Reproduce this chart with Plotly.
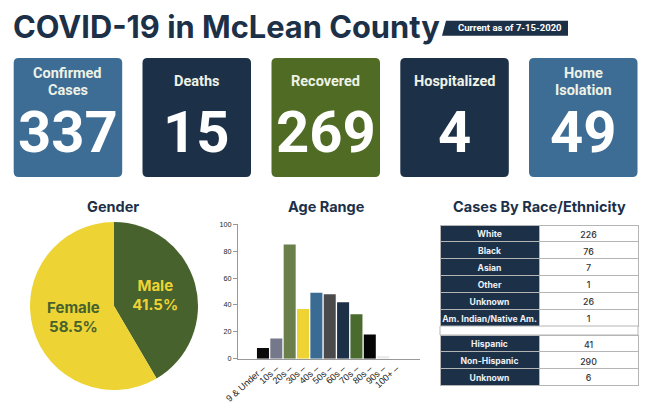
import plotly.graph_objects as go

W = 652
H = 405
NAVY = '#1c3048'
BLUE = '#3d6d94'
GREEN = '#4f6b24'
PIE_GREEN = '#47622d'
YELLOW = '#edd434'

# cards across the top
card_labels = [['Confirmed', 'Cases'], ['Deaths'], ['Recovered'], ['Hospitalized'], ['Home', 'Isolation']]
card_values = ['337', '15', '269', '4', '49']

# gender pie
gender_labels = ['Male', 'Female']
gender_counts = [140, 197]

# age bars
age_labels = ['9 & Under –', '10s –', '20s –', '30s –', '40s –', '50s –', '60s –', '70s –', '80s –', '90s –', '100+ –']
age_counts = [8, 15, 85, 37, 49, 48, 42, 33, 18, 2, 0]
age_colors = ['#0b0b0b', '#75788a', '#6b7f4b', YELLOW, '#3a6b92', '#4a4a4c', NAVY, '#4b6a2d', '#050505', '#ececec', '#ffffff']

# race / ethnicity tables
race_labels = ['White', 'Black', 'Asian', 'Other', 'Unknown', 'Am.\u00a0Indian/Native\u00a0Am.']
race_counts = [226, 76, 7, 1, 26, 1]
ethnicity_labels = ['Hispanic', 'Non-Hispanic', 'Unknown']
ethnicity_counts = [41, 290, 6]


def px(x):
    return x / W


def py(y):
    return 1 - y / H


def text(x, y, s, size, color=NAVY, font='Roboto'):
    fig.add_annotation(x=px(x), y=py(y), xref='paper', yref='paper', text=s, showarrow=False,
                       font=dict(family=font, size=size, color=color), xanchor='center', yanchor='middle')


def card_path(x0, y0, x1, y1, r):
    x0, x1 = px(x0), px(x1)
    y0, y1 = py(y0), py(y1)
    rx, ry = r / W, r / H
    return (f'M {x0 + rx} {y0} L {x1 - rx} {y0} Q {x1} {y0} {x1} {y0 - ry} L {x1} {y1 + ry} '
            f'Q {x1} {y1} {x1 - rx} {y1} L {x0 + rx} {y1} Q {x0} {y1} {x0} {y1 + ry} '
            f'L {x0} {y0 - ry} Q {x0} {y0} {x0 + rx} {y0} Z')


def make_table(labels, counts, top, bottom):
    # table text sits low in short rows, so the grid and the text are two tables,
    # the text one moved up a little
    blank = [''] * len(labels)
    hidden = dict(values=['', ''], height=0, line=dict(width=0), fill=dict(color='rgba(0,0,0,0)'))
    grid = go.Table(
        domain=dict(x=[px(440), px(638)], y=[py(bottom + 3), py(top)]),
        columnwidth=[99, 99], header=hidden,
        cells=dict(values=[blank, blank], height=16.9,
                   fill=dict(color=[NAVY, 'white']), line=dict(color='#b5b5b5', width=1)))
    words = go.Table(
        domain=dict(x=[px(440), px(638)], y=[py(bottom + 3), py(top - 2)]),
        columnwidth=[99, 99], header=hidden,
        cells=dict(values=[labels, counts], height=16.9, align='center',
                   fill=dict(color='rgba(0,0,0,0)'), line=dict(width=0),
                   font=dict(family='Inter', size=[8.6, 8.8], weight=[700, 500], color=['#eef1f4', '#333333'])))
    return [grid, words]


fig = go.Figure()

fig.add_trace(go.Pie(
    labels=gender_labels, values=gender_counts, sort=False, direction='clockwise', rotation=0,
    domain=dict(x=[px(30), px(198)], y=[py(390), py(222)]),
    marker=dict(colors=[PIE_GREEN, YELLOW]), texttemplate='<b>%{label}<br>%{percent:.1%}</b>',
    textposition='inside', insidetextorientation='horizontal',
    textfont=dict(family='Inter', size=15, color=[YELLOW, PIE_GREEN]), showlegend=False))

fig.add_trace(go.Bar(x=age_labels, y=age_counts, marker=dict(color=age_colors, line=dict(color='#cccccc', width=0)),
                     width=0.9, showlegend=False))

fig.add_traces(make_table(race_labels, race_counts, 225, 326))
fig.add_traces(make_table(ethnicity_labels, ethnicity_counts, 335, 386))

fig.update_layout(
    width=W, height=H, margin=dict(l=0, r=0, t=0, b=0, autoexpand=False), paper_bgcolor='white', plot_bgcolor='white',
    xaxis=dict(domain=[px(238), px(420)], range=[-1.87, 11.76], type='category', tickangle=-42, ticks='',
               tickfont=dict(family='Liberation Sans', size=9.2, color='#222222'), showgrid=False,
               showline=True, linecolor='#999999', linewidth=1, categoryorder='array', categoryarray=age_labels),
    yaxis=dict(domain=[py(358.7), py(224.3)], range=[0, 100], tickvals=[0, 20, 40, 60, 80, 100], ticks='outside',
               ticklen=4, tickcolor='#999999', tickfont=dict(family='Liberation Sans', size=7.2, color='#222222'),
               showgrid=False, showline=True, linecolor='#999999', linewidth=1, zeroline=False))

# header
text(226, 26, '<b>COVID-19 in McLean County</b>', 30.8, font='Inter')
fig.add_shape(type='path', xref='paper', yref='paper', fillcolor=NAVY, line=dict(width=0),
              path=f'M {px(446)} {py(20.7)} L {px(568)} {py(20.7)} L {px(568)} {py(35.7)} L {px(442)} {py(35.7)} Z')
text(510, 28, '<b>Current as of 7-15-2020</b>', 9.5, 'white')

# cards
card_x = [13.7, 142.5, 271.5, 400.3, 529]
card_colors = [BLUE, NAVY, GREEN, NAVY, BLUE]
for i in range(len(card_values)):
    x0 = card_x[i]
    fig.add_shape(type='path', xref='paper', yref='paper', path=card_path(x0, 58, x0 + 108.5, 177, 5),
                  fillcolor=card_colors[i], line=dict(width=0))
    lines = card_labels[i]
    for j, line in enumerate(lines):
        text(x0 + 54, 81.5 + (j - (len(lines) - 1) / 2) * 17, f'<b>{line}</b>', 14.5, '#eef2e6')
    text(x0 + 54, 132, f'<b>{card_values[i]}</b>', 58, 'white')

# section titles
text(113, 206, '<b>Gender</b>', 14.5, font='Inter')
text(326, 206, '<b>Age Range</b>', 14.5, font='Inter')
text(539, 206, '<b>Cases By Race/Ethnicity</b>', 14.5, font='Inter')

# empty row between the two tables
fig.add_shape(type='rect', xref='paper', yref='paper', x0=px(440), x1=px(638), y0=py(335), y1=py(326),
              line=dict(color='#b5b5b5', width=1), fillcolor='white')

fig.write_html("out.html", config=dict(displayModeBar=False), post_script="document.body.style.margin='0';")
